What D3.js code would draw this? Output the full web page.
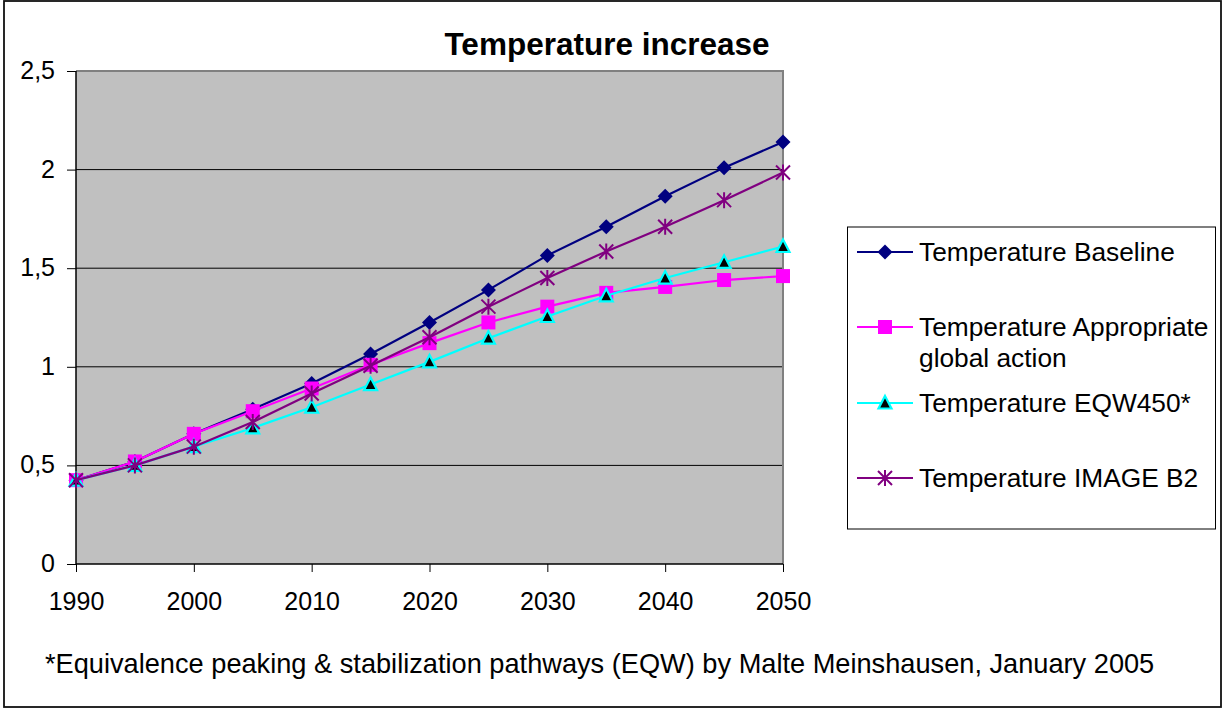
<!DOCTYPE html>
<html><head><meta charset="utf-8">
<script src="https://cdn.jsdelivr.net/npm/d3@7"></script>
<style>
html,body{margin:0;padding:0;background:#fff;}
svg text{font-family:"Liberation Sans",Arial,sans-serif;fill:#000;}
</style></head>
<body><svg id="c" width="1223" height="709"></svg>
<script>
const years = [1990,1995,2000,2005,2010,2015,2020,2025,2030,2035,2040,2045,2050];
const baseline    = [0.425,0.52,0.66,0.785,0.915,1.065,1.225,1.39,1.565,1.71,1.865,2.01,2.14];
const appropriate = [0.425,0.52,0.66,0.775,0.89,1.01,1.12,1.225,1.305,1.375,1.405,1.44,1.46];
const eqw450      = [0.425,0.50,0.595,0.69,0.795,0.91,1.025,1.145,1.255,1.36,1.45,1.53,1.61];
const imageB2     = [0.425,0.50,0.595,0.72,0.865,1.005,1.15,1.305,1.45,1.585,1.71,1.845,1.985];
const seriesNames = ["Temperature Baseline","Temperature Appropriate\nglobal action","Temperature EQW450*","Temperature IMAGE B2"];
const xTicks = [1990,2000,2010,2020,2030,2040,2050];
const yTicks = [0,0.5,1,1.5,2,2.5];
const yTickLabels = ["0","0,5","1","1,5","2","2,5"];
const title = "Temperature increase";
const footnote = "*Equivalence peaking & stabilization pathways (EQW) by Malte Meinshausen, January 2005";

const svg = d3.select("#c");
const L=76,R=783,T=71,B=564;
const x = d3.scaleLinear().domain([1990,2050]).range([L,R]);
const y = d3.scaleLinear().domain([0,2.5]).range([B,T]);

// outer border
svg.append("rect").attr("x",4).attr("y",1).attr("width",1217).attr("height",706)
  .attr("fill","#fff").attr("stroke","#111").attr("stroke-width",1.8);

// plot area
svg.append("rect").attr("x",L).attr("y",T).attr("width",R-L).attr("height",B-T).attr("fill","#C0C0C0");
// gridlines
svg.append("g").selectAll("line").data(yTicks.filter(d=>d>0&&d<2.5)).join("line")
  .attr("x1",L).attr("x2",R).attr("y1",d=>y(d)).attr("y2",d=>y(d)).attr("stroke","#000").attr("stroke-width",1);
// plot border top/right gray
svg.append("path").attr("d",`M${L},${T}H${R}V${B}`).attr("fill","none").attr("stroke","#808080").attr("stroke-width",2);

// axes
const yAxis = d3.axisLeft(y).tickValues(yTicks).tickFormat((d,i)=>yTickLabels[i]).tickSize(9).tickPadding(12);
const gy = svg.append("g").attr("transform",`translate(${L},0)`).call(yAxis);
gy.select(".domain").attr("stroke","#000").attr("stroke-width",1.5).attr("d",`M0,${B}V${T}`);
gy.selectAll(".tick line").attr("stroke","#000");
gy.selectAll("text").attr("font-size",25).attr("font-family","Liberation Sans, Arial, sans-serif").attr("dy","0.3em");

const xAxis = d3.axisBottom(x).tickValues(xTicks).tickFormat(d3.format("d")).tickSize(8).tickPadding(20);
const gx = svg.append("g").attr("transform",`translate(0,${B})`).call(xAxis);
gx.select(".domain").attr("stroke","#000").attr("stroke-width",1.5).attr("d",`M${L},0H${R}`);
gx.selectAll(".tick line").attr("stroke","#000");
gx.selectAll("text").attr("font-size",25).attr("font-family","Liberation Sans, Arial, sans-serif");

// series
const series = [
  {name:seriesNames[0], vals:baseline, color:"#000080", marker:"diamond"},
  {name:seriesNames[1], vals:appropriate, color:"#FF00FF", marker:"square"},
  {name:seriesNames[2], vals:eqw450, color:"#00FFFF", marker:"triangle"},
  {name:seriesNames[3], vals:imageB2, color:"#800080", marker:"star"}
];
const line = d3.line().x(d=>x(d[0])).y(d=>y(d[1]));

function drawMarker(g, type, color, cx, cy){
  if(type==="diamond"){
    g.append("path").attr("d",`M${cx},${cy-7.5}L${cx+7.5},${cy}L${cx},${cy+7.5}L${cx-7.5},${cy}Z`).attr("fill",color);
  } else if(type==="square"){
    g.append("rect").attr("x",cx-7).attr("y",cy-7).attr("width",14).attr("height",14).attr("fill",color);
  } else if(type==="triangle"){
    g.append("path").attr("d",`M${cx},${cy-7}L${cx+6.5},${cy+5.5}L${cx-6.5},${cy+5.5}Z`).attr("fill","#000").attr("stroke",color).attr("stroke-width",2.2);
  } else if(type==="star"){
    const s=7;
    g.append("path").attr("d",`M${cx-s},${cy-s}L${cx+s},${cy+s}M${cx+s},${cy-s}L${cx-s},${cy+s}M${cx},${cy-s-1}L${cx},${cy+s+1}`)
      .attr("stroke",color).attr("stroke-width",2).attr("fill","none");
  }
}

series.forEach(s=>{
  const g = svg.append("g");
  const pts = years.map((yr,i)=>[yr,s.vals[i]]);
  g.append("path").attr("d",line(pts)).attr("fill","none").attr("stroke",s.color).attr("stroke-width",2.2);
  pts.forEach(p=>drawMarker(g,s.marker,s.color,x(p[0]),y(p[1])));
});

// title
svg.append("text").attr("x",607).attr("y",55).attr("text-anchor","middle")
  .attr("font-size",31.5).attr("font-weight","bold").text(title);

// legend
svg.append("rect").attr("x",847.5).attr("y",227).attr("width",368).attr("height",302)
  .attr("fill","#fff").attr("stroke","#000").attr("stroke-width",1);
const legRowsY=[252,327,403,478];
series.forEach((s,i)=>{
  const g=svg.append("g");
  const ly=legRowsY[i];
  g.append("line").attr("x1",857).attr("x2",913).attr("y1",ly).attr("y2",ly).attr("stroke",s.color).attr("stroke-width",2.2);
  drawMarker(g,s.marker,s.color,885,ly);
  const lines=s.name.split("\n");
  const t=g.append("text").attr("x",919).attr("y",ly+9).attr("font-size",26.3);
  lines.forEach((ln,j)=>t.append("tspan").attr("x",919).attr("dy",j===0?0:31).text(ln));
});

// footnote
svg.append("text").attr("x",45).attr("y",673).attr("font-size",27.2).text(footnote);
</script></body></html>
